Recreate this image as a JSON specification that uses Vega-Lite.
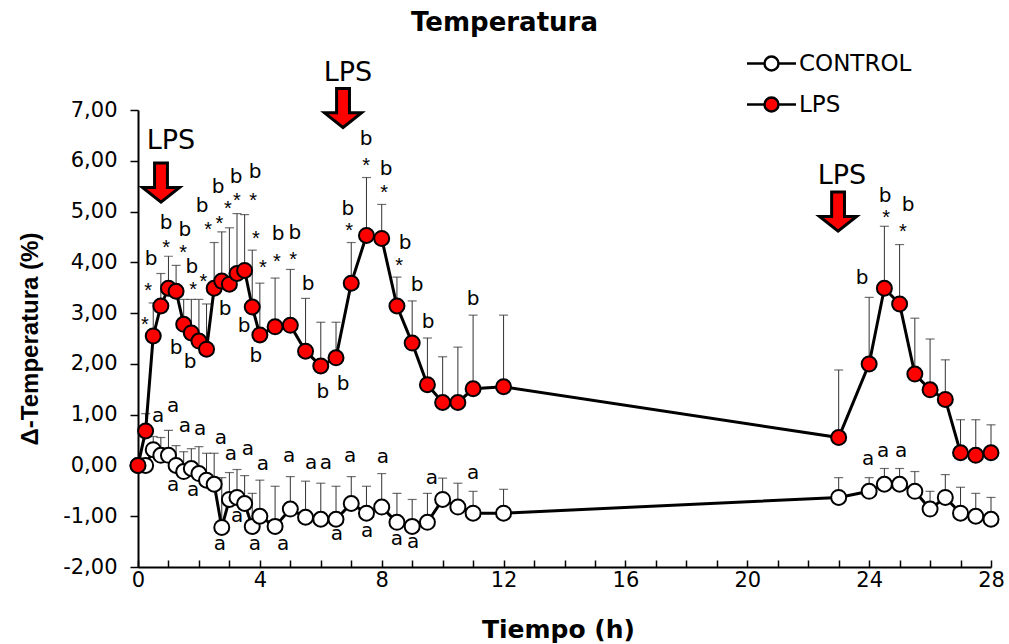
{
 "$schema": "https://vega.github.io/schema/vega-lite/v6.json",
 "width": 853, "height": 457,
 "autosize": {"type": "none"},
 "padding": {"left": 138, "top": 110, "right": 18, "bottom": 77},
 "title": {"text": "Temperatura", "fontSize": 26, "fontWeight": "bold", "font": "DejaVu Sans", "color": "black", "anchor": "middle", "frame": "group", "dx": -60, "offset": 12},
 "config": {"view": {"stroke": null}, "font": "DejaVu Sans"},
 "datasets": {
  "temp": [
   {"serie":"CONTROL","t":0,"y":0,"sup":null},
   {"serie":"CONTROL","t":0.25,"y":0.0,"sup":0.12},
   {"serie":"CONTROL","t":0.5,"y":0.31,"sup":0.57},
   {"serie":"CONTROL","t":0.75,"y":0.2,"sup":0.55},
   {"serie":"CONTROL","t":1.0,"y":0.2,"sup":0.69},
   {"serie":"CONTROL","t":1.25,"y":0.0,"sup":0.39},
   {"serie":"CONTROL","t":1.5,"y":-0.12,"sup":0.27},
   {"serie":"CONTROL","t":1.75,"y":-0.06,"sup":0.33},
   {"serie":"CONTROL","t":2.0,"y":-0.16,"sup":0.37},
   {"serie":"CONTROL","t":2.25,"y":-0.29,"sup":0.24},
   {"serie":"CONTROL","t":2.5,"y":-0.37,"sup":0.24},
   {"serie":"CONTROL","t":2.75,"y":-1.22,"sup":-0.24},
   {"serie":"CONTROL","t":3.0,"y":-0.67,"sup":-0.14},
   {"serie":"CONTROL","t":3.25,"y":-0.63,"sup":-0.08},
   {"serie":"CONTROL","t":3.5,"y":-0.75,"sup":-0.2},
   {"serie":"CONTROL","t":3.75,"y":-1.2,"sup":-0.55},
   {"serie":"CONTROL","t":4.0,"y":-1.0,"sup":-0.29},
   {"serie":"CONTROL","t":4.5,"y":-1.2,"sup":-0.41},
   {"serie":"CONTROL","t":5.0,"y":-0.86,"sup":-0.22},
   {"serie":"CONTROL","t":5.5,"y":-1.02,"sup":-0.31},
   {"serie":"CONTROL","t":6.0,"y":-1.06,"sup":-0.35},
   {"serie":"CONTROL","t":6.5,"y":-1.06,"sup":-0.41},
   {"serie":"CONTROL","t":7.0,"y":-0.75,"sup":-0.22},
   {"serie":"CONTROL","t":7.5,"y":-0.94,"sup":-0.41},
   {"serie":"CONTROL","t":8.0,"y":-0.82,"sup":-0.16},
   {"serie":"CONTROL","t":8.5,"y":-1.12,"sup":-0.55},
   {"serie":"CONTROL","t":9.0,"y":-1.2,"sup":-0.67},
   {"serie":"CONTROL","t":9.5,"y":-1.12,"sup":-0.55},
   {"serie":"CONTROL","t":10.0,"y":-0.67,"sup":-0.25},
   {"serie":"CONTROL","t":10.5,"y":-0.82,"sup":-0.35},
   {"serie":"CONTROL","t":11.0,"y":-0.94,"sup":-0.51},
   {"serie":"CONTROL","t":12.0,"y":-0.94,"sup":-0.47},
   {"serie":"CONTROL","t":23.0,"y":-0.63,"sup":-0.24},
   {"serie":"CONTROL","t":24.0,"y":-0.51,"sup":-0.24},
   {"serie":"CONTROL","t":24.5,"y":-0.37,"sup":-0.06},
   {"serie":"CONTROL","t":25.0,"y":-0.37,"sup":-0.06},
   {"serie":"CONTROL","t":25.5,"y":-0.51,"sup":-0.12},
   {"serie":"CONTROL","t":26.0,"y":-0.86,"sup":-0.51},
   {"serie":"CONTROL","t":26.5,"y":-0.63,"sup":-0.18},
   {"serie":"CONTROL","t":27.0,"y":-0.94,"sup":-0.43},
   {"serie":"CONTROL","t":27.5,"y":-1.0,"sup":-0.55},
   {"serie":"CONTROL","t":28.0,"y":-1.06,"sup":-0.63},
   {"serie":"LPS","t":0,"y":0,"sup":null},
   {"serie":"LPS","t":0.25,"y":0.68,"sup":1.02},
   {"serie":"LPS","t":0.5,"y":2.55,"sup":3.2},
   {"serie":"LPS","t":0.75,"y":3.14,"sup":3.78},
   {"serie":"LPS","t":1.0,"y":3.49,"sup":4.12},
   {"serie":"LPS","t":1.25,"y":3.43,"sup":3.94},
   {"serie":"LPS","t":1.5,"y":2.78,"sup":3.27},
   {"serie":"LPS","t":1.75,"y":2.61,"sup":3.27},
   {"serie":"LPS","t":2.0,"y":2.45,"sup":3.27},
   {"serie":"LPS","t":2.25,"y":2.29,"sup":3.18},
   {"serie":"LPS","t":2.5,"y":3.49,"sup":4.39},
   {"serie":"LPS","t":2.75,"y":3.63,"sup":4.6},
   {"serie":"LPS","t":3.0,"y":3.57,"sup":4.68},
   {"serie":"LPS","t":3.25,"y":3.78,"sup":4.96},
   {"serie":"LPS","t":3.5,"y":3.84,"sup":4.94},
   {"serie":"LPS","t":3.75,"y":3.12,"sup":4.24},
   {"serie":"LPS","t":4.0,"y":2.57,"sup":3.59},
   {"serie":"LPS","t":4.5,"y":2.73,"sup":3.69},
   {"serie":"LPS","t":5.0,"y":2.76,"sup":3.86},
   {"serie":"LPS","t":5.5,"y":2.25,"sup":3.29},
   {"serie":"LPS","t":6.0,"y":1.96,"sup":2.82},
   {"serie":"LPS","t":6.5,"y":2.12,"sup":2.82},
   {"serie":"LPS","t":7.0,"y":3.59,"sup":4.39},
   {"serie":"LPS","t":7.5,"y":4.53,"sup":5.67},
   {"serie":"LPS","t":8.0,"y":4.47,"sup":5.14},
   {"serie":"LPS","t":8.5,"y":3.14,"sup":3.71},
   {"serie":"LPS","t":9.0,"y":2.41,"sup":3.24},
   {"serie":"LPS","t":9.5,"y":1.59,"sup":2.51},
   {"serie":"LPS","t":10.0,"y":1.24,"sup":2.14},
   {"serie":"LPS","t":10.5,"y":1.24,"sup":2.33},
   {"serie":"LPS","t":11.0,"y":1.51,"sup":2.96},
   {"serie":"LPS","t":12.0,"y":1.55,"sup":2.96},
   {"serie":"LPS","t":23.0,"y":0.55,"sup":1.88},
   {"serie":"LPS","t":24.0,"y":2.0,"sup":3.31},
   {"serie":"LPS","t":24.5,"y":3.49,"sup":4.71},
   {"serie":"LPS","t":25.0,"y":3.18,"sup":4.35},
   {"serie":"LPS","t":25.5,"y":1.8,"sup":2.9},
   {"serie":"LPS","t":26.0,"y":1.49,"sup":2.49},
   {"serie":"LPS","t":26.5,"y":1.3,"sup":2.08},
   {"serie":"LPS","t":27.0,"y":0.25,"sup":0.9},
   {"serie":"LPS","t":27.5,"y":0.2,"sup":0.9},
   {"serie":"LPS","t":28.0,"y":0.25,"sup":0.8}
  ],
  "ann": [
   {"t":0.23,"y":2.87,"txt":"*"},{"t":0.33,"y":3.54,"txt":"*"},{"t":0.43,"y":4.11,"txt":"b"},
   {"t":0.92,"y":4.38,"txt":"*"},{"t":0.92,"y":4.81,"txt":"b"},{"t":1.48,"y":4.28,"txt":"*"},
   {"t":1.54,"y":4.68,"txt":"b"},{"t":1.77,"y":3.95,"txt":"b"},{"t":1.81,"y":3.55,"txt":"*"},
   {"t":2.15,"y":3.71,"txt":"*"},{"t":2.10,"y":5.15,"txt":"b"},{"t":2.30,"y":4.73,"txt":"*"},
   {"t":2.63,"y":5.52,"txt":"b"},{"t":2.67,"y":4.86,"txt":"*"},{"t":2.95,"y":5.14,"txt":"*"},
   {"t":3.22,"y":5.72,"txt":"b"},{"t":3.25,"y":5.31,"txt":"*"},{"t":3.84,"y":5.82,"txt":"b"},
   {"t":3.78,"y":5.31,"txt":"*"},{"t":3.87,"y":4.56,"txt":"*"},{"t":4.10,"y":3.99,"txt":"*"},
   {"t":4.60,"y":4.60,"txt":"b"},{"t":4.56,"y":4.10,"txt":"*"},{"t":5.15,"y":4.62,"txt":"b"},
   {"t":5.09,"y":4.15,"txt":"*"},{"t":5.58,"y":3.61,"txt":"b"},
   {"t":1.25,"y":2.35,"txt":"b"},{"t":1.71,"y":2.08,"txt":"b"},{"t":2.86,"y":3.13,"txt":"b"},
   {"t":3.48,"y":2.78,"txt":"b"},{"t":3.87,"y":2.19,"txt":"b"},{"t":6.07,"y":1.49,"txt":"b"},
   {"t":6.73,"y":1.64,"txt":"b"},
   {"t":7.49,"y":6.47,"txt":"b"},{"t":7.49,"y":5.99,"txt":"*"},{"t":8.14,"y":5.88,"txt":"b"},
   {"t":8.08,"y":5.46,"txt":"*"},{"t":6.89,"y":5.09,"txt":"b"},{"t":6.93,"y":4.72,"txt":"*"},
   {"t":8.77,"y":4.42,"txt":"b"},{"t":8.57,"y":4.03,"txt":"*"},{"t":9.16,"y":3.59,"txt":"b"},
   {"t":9.52,"y":2.87,"txt":"b"},{"t":11.0,"y":3.32,"txt":"b"},
   {"t":24.52,"y":5.34,"txt":"b"},{"t":24.56,"y":4.97,"txt":"*"},{"t":25.28,"y":5.17,"txt":"b"},
   {"t":25.11,"y":4.69,"txt":"*"},{"t":23.77,"y":3.73,"txt":"b"},
   {"t":0.66,"y":0.95,"txt":"a"},{"t":1.15,"y":1.15,"txt":"a"},{"t":1.54,"y":0.76,"txt":"a"},
   {"t":2.04,"y":0.70,"txt":"a"},{"t":2.72,"y":0.52,"txt":"a"},{"t":3.05,"y":0.20,"txt":"a"},
   {"t":3.61,"y":0.30,"txt":"a"},{"t":4.10,"y":0.01,"txt":"a"},{"t":4.96,"y":0.17,"txt":"a"},
   {"t":5.68,"y":0.03,"txt":"a"},{"t":6.17,"y":0.03,"txt":"a"},{"t":6.96,"y":0.17,"txt":"a"},
   {"t":8.04,"y":0.15,"txt":"a"},{"t":9.65,"y":-0.27,"txt":"a"},{"t":11.0,"y":-0.17,"txt":"a"},
   {"t":23.97,"y":0.11,"txt":"a"},{"t":24.46,"y":0.26,"txt":"a"},{"t":25.05,"y":0.26,"txt":"a"},
   {"t":1.15,"y":-0.41,"txt":"a"},{"t":1.81,"y":-0.50,"txt":"a"},{"t":3.25,"y":-1.02,"txt":"a"},
   {"t":2.69,"y":-1.57,"txt":"a"},{"t":3.84,"y":-1.57,"txt":"a"},{"t":4.76,"y":-1.57,"txt":"a"},
   {"t":6.53,"y":-1.37,"txt":"a"},{"t":7.52,"y":-1.31,"txt":"a"},{"t":8.50,"y":-1.47,"txt":"a"},
   {"t":9.03,"y":-1.53,"txt":"a"}
  ],
  "flechas": [
   {"t":0.755,"y":5.57},{"t":6.73,"y":7.04},{"t":22.98,"y":5.0}
  ],
  "lps": [
   {"t":1.08,"y":6.43,"txt":"LPS"},{"t":6.89,"y":7.76,"txt":"LPS"},{"t":23.11,"y":5.73,"txt":"LPS"}
  ]
 },
 "encoding": {
  "x": {"field": "t", "type": "quantitative",
   "scale": {"domain": [0, 28], "nice": false, "zero": false},
   "axis": {"title": "Tiempo (h)", "values": [0,1,2,3,4,5,6,7,8,9,10,11,12,13,14,15,16,17,18,19,20,21,22,23,24,25,26,27,28],
    "labelExpr": "datum.value % 4 === 0 ? datum.label : ''", "grid": false,
    "domainColor": "black", "domainWidth": 2, "tickColor": "black", "tickWidth": 1.5, "tickSize": -7,
    "labelFontSize": 21, "labelColor": "black", "labelPadding": 9, "labelFont": "DejaVu Sans",
    "titleFontSize": 25, "titleFontWeight": "bold", "titleColor": "black", "titlePadding": 27, "titleFont": "DejaVu Sans", "titleX": 420, "labelFlush": false, "labelOverlap": false}},
  "y": {"field": "y", "type": "quantitative",
   "scale": {"domain": [-2, 7], "nice": false, "zero": false},
   "axis": {"title": "Δ-Temperatura (%)", "values": [-2,-1,0,1,2,3,4,5,6,7],
    "labelExpr": "replace(replace(format(datum.value, '.2f'), '.', ','), '\u2212', '-')", "grid": false,
    "domainColor": "black", "domainWidth": 2, "tickColor": "black", "tickWidth": 1.5, "tickSize": 8,
    "labelFontSize": 21, "labelColor": "black", "labelPadding": 13, "labelFont": "DejaVu Sans",
    "titleFontSize": 24, "titleFontWeight": "bold", "titleColor": "black", "titlePadding": 20, "titleFont": "Liberation Sans"}}
 },
 "layer": [
  {"data": {"name": "temp"}, "transform": [{"filter": "datum.sup != null"}],
   "mark": {"type": "rule", "color": "#333333", "strokeWidth": 1},
   "encoding": {"y2": {"field": "sup"}}},
  {"data": {"name": "temp"}, "transform": [{"filter": "datum.sup != null"}],
   "mark": {"type": "tick", "orient": "horizontal", "size": 9, "thickness": 1.2, "color": "#333333"},
   "encoding": {"y": {"field": "sup", "type": "quantitative", "title": "Δ-Temperatura (%)"}}},
  {"data": {"name": "temp"},
   "mark": {"type": "line", "color": "black", "strokeWidth": 3},
   "encoding": {"detail": {"field": "serie", "type": "nominal"}}},
  {"data": {"name": "temp"},
   "mark": {"type": "point", "filled": true, "size": 225, "stroke": "black", "strokeWidth": 2, "opacity": 1, "shape": "circle"},
   "encoding": {"fill": {"field": "serie", "type": "nominal",
     "scale": {"domain": ["CONTROL", "LPS"], "range": ["white", "#FF0000"]},
     "legend": {"title": null, "orient": "none", "legendX": 618, "legendY": -62, "padding": 0,
      "symbolType": "M -1.75 0 L -0.5 0 M 0.5 0 L 1.75 0 M -0.5 0 A 0.5 0.5 0 1 0 0.5 0 A 0.5 0.5 0 1 0 -0.5 0 Z",
      "symbolSize": 784, "symbolStrokeColor": "black", "symbolStrokeWidth": 2.5, "symbolOpacity": 1,
      "labelFontSize": 23, "labelFont": "DejaVu Sans", "labelColor": "black", "labelOffset": 12, "rowPadding": 13}}}},
  {"data": {"name": "ann"}, "transform": [{"filter": "datum.txt === 'a'"}],
   "mark": {"type": "text", "fontSize": 20, "font": "DejaVu Sans", "baseline": "alphabetic", "align": "center", "dy": 5, "color": "black"},
   "encoding": {"text": {"field": "txt"}}},
  {"data": {"name": "ann"}, "transform": [{"filter": "datum.txt === 'b'"}],
   "mark": {"type": "text", "fontSize": 20, "font": "DejaVu Sans", "baseline": "alphabetic", "align": "center", "dy": 8, "color": "black"},
   "encoding": {"text": {"field": "txt"}}},
  {"data": {"name": "ann"}, "transform": [{"filter": "datum.txt === '*'"}],
   "mark": {"type": "text", "fontSize": 20, "font": "Liberation Sans", "baseline": "alphabetic", "align": "center", "dy": 11, "color": "black"},
   "encoding": {"text": {"field": "txt"}}},
  {"data": {"name": "flechas"},
   "mark": {"type": "point", "shape": "M -0.33 -1 L 0.33 -1 L 0.33 0.25 L 0.95 0.25 L 0 1 L -0.95 0.25 L -0.33 0.25 Z",
    "size": 1521, "filled": true, "fill": "#FF0000", "stroke": "black", "strokeWidth": 3, "opacity": 1}},
  {"data": {"name": "lps"},
   "mark": {"type": "text", "fontSize": 27, "font": "DejaVu Sans", "baseline": "alphabetic", "align": "center", "dy": 10, "color": "black"},
   "encoding": {"text": {"field": "txt"}}}
 ]
}
